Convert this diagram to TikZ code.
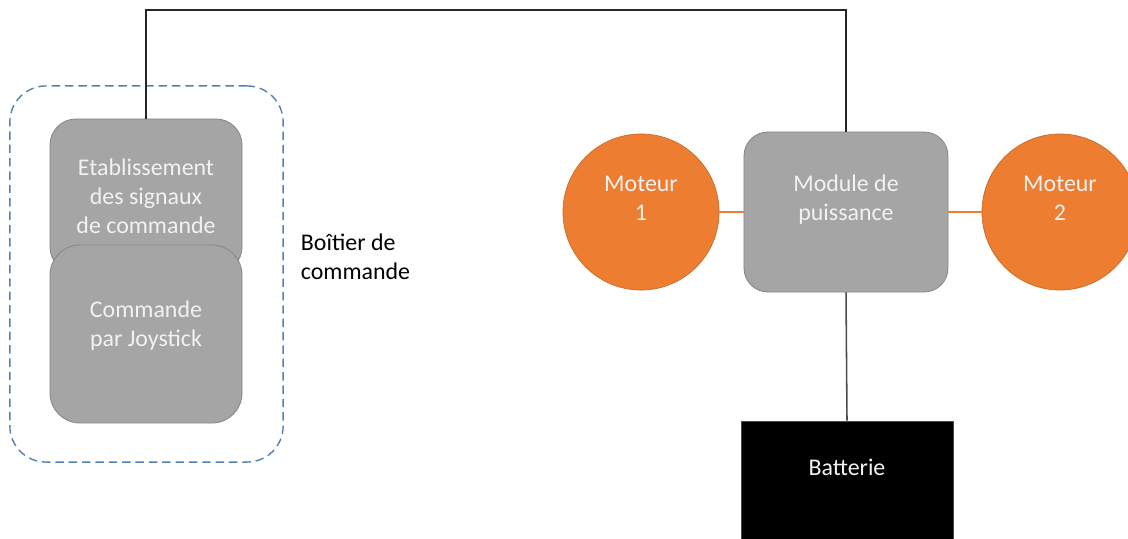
\documentclass[tikz,border=0pt]{standalone}
\usepackage{fontspec}
\setmainfont{Carlito}

\definecolor{grisfond}{RGB}{165,165,165}
\definecolor{grisbord}{RGB}{135,135,135}
\definecolor{orangemot}{RGB}{237,125,49}
\definecolor{bleupointe}{RGB}{84,130,175}

\tikzset{
  bloc/.style={draw=grisbord, fill=grisfond, line width=0.6pt, rounded corners=0.65cm},
  moteur/.style={circle, draw=orangemot!85!black, fill=orangemot, line width=0.5pt, minimum size=3.9cm},
  lbl/.style={text=white!95!black, align=center, yshift=#1},
  fil/.style={line width=1.1pt, draw=black!85},
  filorange/.style={line width=0.8pt, draw=orangemot}
}

\begin{document}
\begin{tikzpicture}[x=0.025cm, y=-0.025cm, font=\fontsize{17}{20.6}\selectfont]

% Define the frame
\clip (0,0) rectangle (1128,538);

% Draw the control box
\node[draw=bleupointe, line width=1pt, dash pattern=on 6pt off 3.5pt, rounded corners=0.9cm,
      minimum width=6.83cm, minimum height=9.4cm] (boitier) at (146.5,274) {};
\node[bloc, minimum width=4.8cm, minimum height=3.85cm,
      label={[lbl=0cm]center:Etablissement\\des signaux\\de commande}] (etab) at (146,196) {};
\node[bloc, rounded corners=0.75cm, minimum width=4.8cm, minimum height=4.45cm,
      label={[lbl=0.2cm]center:Commande\\par Joystick}] (joy) at (146,334) {};
\node[anchor=west, align=left] (legende) at (296,257) {Boîtier de\\commande};

% Draw the power side
\node[bloc, rounded corners=0.6cm, minimum width=5.1cm, minimum height=4cm,
      label={[lbl=0.3cm]center:Module de\\puissance}] (module) at (846,212) {};
\node[moteur, label={[lbl=0.35cm]center:Moteur\\1}] (moteur1) at (641,212) {};
\node[moteur, label={[lbl=0.35cm]center:Moteur\\2}] (moteur2) at (1060,212) {};
\node[fill=black, draw=black!70, minimum width=5.3cm, minimum height=4cm,
      label={[lbl=0.85cm]center:Batterie}] (batterie) at (847,501) {};

% Draw the wires
\coordinate (haut) at (500,10);
\draw[fil] (etab.north) |- (haut) -| (module.north);
\draw[filorange] (moteur1) -- (module);
\draw[filorange] (module) -- (moteur2);
\draw[fil, draw=black!70] (module.south) -- (batterie.north);

\end{tikzpicture}
\end{document}
